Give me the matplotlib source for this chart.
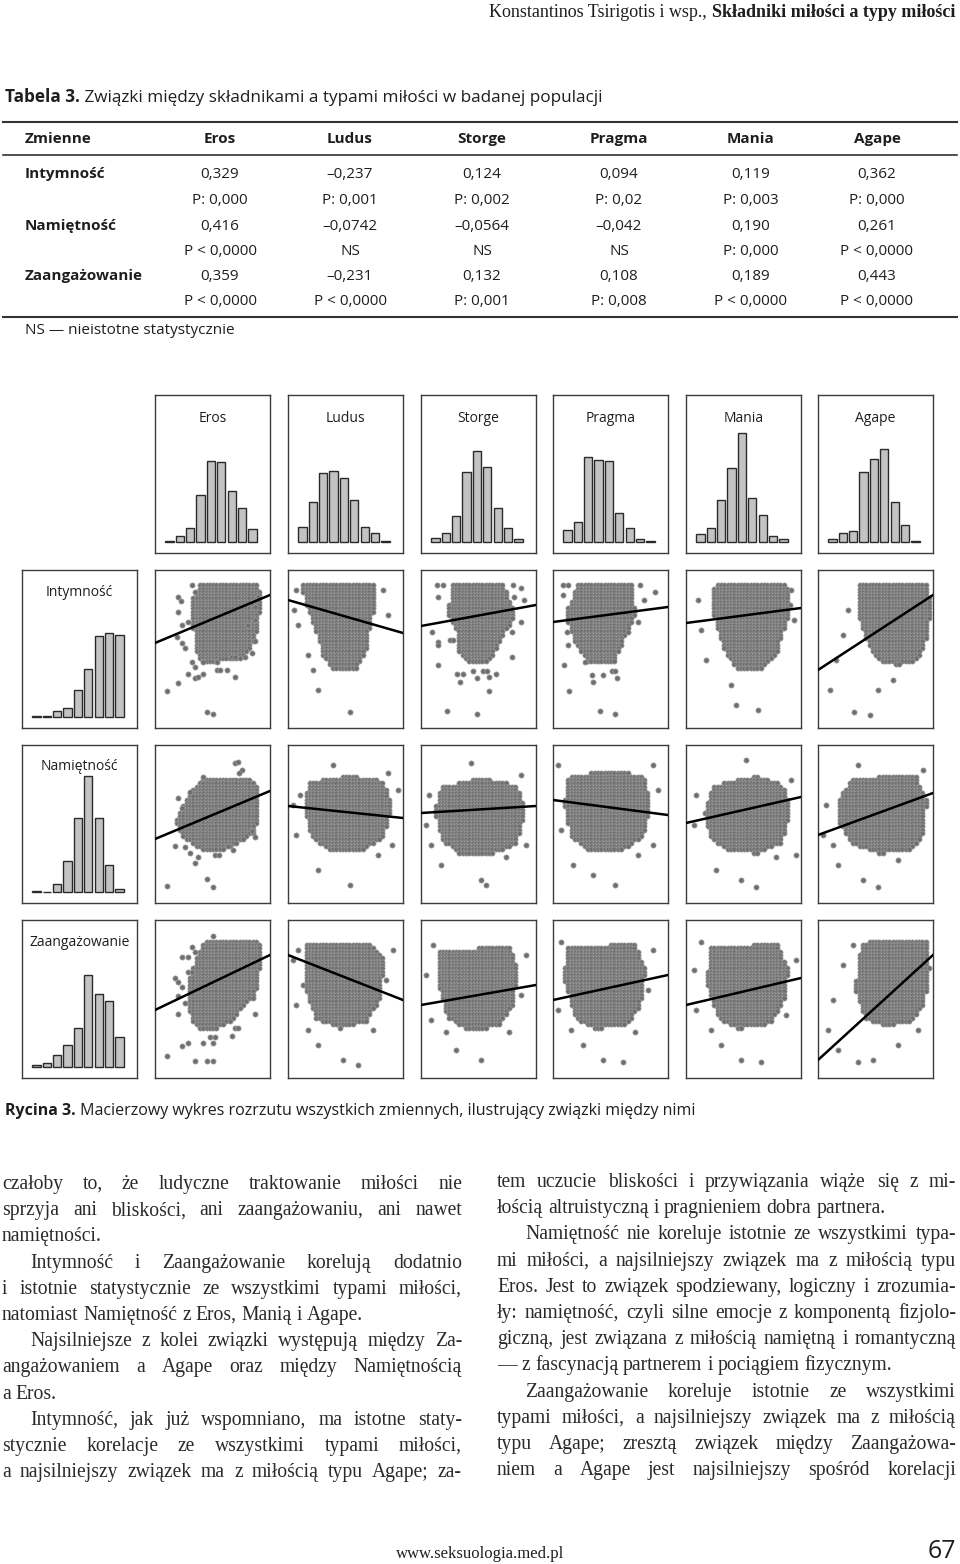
import numpy as np
import matplotlib.pyplot as plt
from matplotlib.path import Path
from matplotlib.lines import Line2D

W, H = 960, 1564

# ---- table data ----
love_types = ['Eros', 'Ludus', 'Storge', 'Pragma', 'Mania', 'Agape']
components = ['Intymność', 'Namiętność', 'Zaangażowanie']
r_intymnosc = ['0,329', '–0,237', '0,124', '0,094', '0,119', '0,362']
p_intymnosc = ['P: 0,000', 'P: 0,001', 'P: 0,002', 'P: 0,02', 'P: 0,003', 'P: 0,000']
r_namietnosc = ['0,416', '–0,0742', '–0,0564', '–0,042', '0,190', '0,261']
p_namietnosc = ['P < 0,0000', 'NS', 'NS', 'NS', 'P: 0,000', 'P < 0,0000']
r_zaangazowanie = ['0,359', '–0,231', '0,132', '0,108', '0,189', '0,443']
p_zaangazowanie = ['P < 0,0000', 'P < 0,0000', 'P: 0,001', 'P: 0,008', 'P < 0,0000', 'P < 0,0000']

# ---- histogram heights (9 bins each) ----
hist_types = [
    [0.7, 6, 14, 47, 81, 80, 51, 34, 13],     # Eros
    [15, 40, 69, 71, 64, 42, 15, 9, 0.7],     # Ludus
    [4, 9, 26, 70, 91, 75, 34, 14, 3],        # Storge
    [12, 20, 85, 82, 81, 29, 14, 3, 0.7],     # Pragma
    [8, 14, 42, 74, 109, 44, 27, 6, 3],       # Mania
    [3, 9, 11, 70, 83, 93, 40, 17, 0.7],      # Agape
]
hist_components = [
    [0.7, 0.7, 6, 9, 27, 48, 81, 84, 82],     # Intymność
    [0.7, 0.5, 8, 31, 74, 116, 74, 27, 3],    # Namiętność
    [2.3, 4.3, 12, 22, 39, 92, 73, 66, 30],   # Zaangażowanie
]

# ---- scatter clouds: dense core outline, isolated points, fit line (y at left, y at right) ----
core_intymnosc = [
    [(46, 13), (102, 13), (106, 25), (104, 45), (100, 68), (95, 80), (82, 90), (48, 92), (40, 82), (38, 55), (38, 28)],
    [(12, 13), (85, 13), (88, 30), (82, 55), (78, 80), (68, 98), (45, 100), (35, 85), (28, 60), (18, 35)],
    [(31, 14), (82, 14), (94, 45), (84, 62), (74, 82), (66, 92), (49, 92), (37, 82), (37, 62), (27, 45)],
    [(25, 14), (79, 14), (82, 45), (69, 72), (62, 92), (35, 92), (22, 72), (12, 45)],
    [(30, 13), (100, 13), (105, 35), (98, 60), (90, 85), (75, 98), (50, 98), (38, 80), (30, 55), (25, 30)],
    [(40, 13), (110, 13), (112, 40), (108, 70), (100, 90), (80, 95), (60, 90), (48, 70), (40, 45)],
]
extra_intymnosc = [
    [(23, 27), (26, 31), (23, 42), (37, 15), (40, 22), (27, 55), (33, 52), (22, 67), (27, 73), (30, 78),
     (37, 92), (40, 97), (48, 92), (33, 104), (40, 108), (43, 107), (48, 104), (23, 113), (12, 121),
     (62, 100), (65, 100), (72, 100), (80, 107), (62, 92), (77, 87), (80, 87), (90, 87), (97, 83),
     (100, 71), (93, 55), (100, 50), (100, 37), (103, 27), (52, 142), (58, 144)],
    [(8, 20), (6, 40), (10, 55), (20, 85), (25, 100), (30, 120), (62, 142), (95, 20), (100, 45)],
    [(16, 15), (22, 15), (17, 27), (92, 15), (100, 18), (103, 30), (93, 27), (11, 62), (17, 72), (17, 75),
     (17, 95), (36, 104), (42, 104), (39, 112), (52, 101), (56, 108), (62, 101), (66, 101), (68, 107),
     (75, 104), (68, 121), (91, 87), (100, 52), (91, 62), (91, 48), (26, 141), (56, 144), (29, 70), (32, 70)],
    [(10, 15), (10, 25), (15, 15), (87, 15), (102, 22), (91, 30), (85, 52), (75, 62), (14, 62), (15, 75),
     (11, 95), (32, 92), (39, 105), (50, 105), (59, 101), (62, 101), (64, 108), (40, 112), (16, 121),
     (47, 141), (62, 144)],
    [(12, 30), (15, 60), (20, 90), (45, 115), (50, 135), (72, 140), (105, 20), (108, 50)],
    [(30, 40), (25, 65), (18, 90), (12, 120), (36, 142), (52, 145), (75, 110), (60, 120)],
]
fit_intymnosc = [(73, 25), (30, 63), (56, 35), (52, 37), (53, 38), (100, 25)]

core_namietnosc = [
    [(47, 35), (93, 33), (102, 42), (103, 62), (100, 88), (87, 95), (67, 105), (47, 105), (37, 98), (27, 92), (20, 75), (27, 62), (35, 48)],
    [(20, 38), (60, 30), (95, 36), (103, 60), (96, 92), (72, 106), (42, 106), (24, 92), (16, 65)],
    [(20, 42), (60, 33), (96, 40), (104, 65), (96, 98), (68, 110), (38, 108), (20, 94), (14, 66)],
    [(14, 32), (60, 25), (92, 32), (97, 60), (90, 92), (68, 106), (36, 106), (18, 92), (11, 60)],
    [(28, 40), (70, 31), (97, 40), (104, 65), (96, 97), (73, 108), (42, 106), (24, 93), (18, 66)],
    [(34, 33), (97, 30), (108, 55), (106, 88), (92, 106), (60, 108), (33, 98), (20, 75), (22, 52)],
]
extra_namietnosc = [
    [(80, 18), (83, 17), (87, 25), (84, 28), (48, 32), (23, 53), (27, 63), (35, 47), (20, 101), (30, 102),
     (35, 108), (43, 112), (40, 118), (60, 110), (64, 110), (73, 101), (78, 105), (97, 86), (100, 92),
     (12, 141), (52, 134), (58, 142)],
    [(5, 60), (8, 90), (30, 125), (62, 140), (110, 45), (104, 100), (45, 20), (12, 50), (100, 28), (90, 110)],
    [(50, 18), (8, 50), (5, 80), (20, 120), (60, 135), (65, 140), (105, 100), (10, 100), (100, 30), (85, 112)],
    [(5, 20), (100, 20), (105, 45), (20, 120), (40, 130), (62, 140), (100, 100), (8, 85), (85, 110)],
    [(60, 15), (10, 50), (8, 80), (30, 125), (55, 135), (70, 142), (110, 110), (105, 35), (90, 112)],
    [(8, 60), (5, 90), (20, 120), (45, 135), (60, 142), (40, 20), (105, 25), (80, 115), (15, 100)],
]
fit_namietnosc = [(94, 46), (61, 73), (68, 61), (55, 70), (78, 52), (90, 48)]

core_zaangazowanie = [
    [(50, 20), (103, 20), (107, 33), (103, 57), (100, 77), (90, 83), (77, 100), (67, 107), (47, 110), (37, 100), (33, 83), (32, 67), (37, 50), (43, 33)],
    [(18, 24), (82, 22), (96, 40), (92, 78), (78, 102), (50, 108), (28, 98), (15, 65)],
    [(18, 30), (88, 27), (97, 50), (92, 84), (78, 106), (46, 110), (27, 98), (17, 65)],
    [(13, 27), (82, 24), (92, 50), (87, 84), (73, 106), (42, 108), (22, 98), (11, 60)],
    [(23, 27), (92, 24), (102, 50), (97, 84), (83, 104), (52, 108), (32, 98), (21, 65)],
    [(43, 22), (110, 20), (111, 50), (106, 84), (93, 102), (66, 106), (47, 98), (37, 70)],
]
extra_zaangazowanie = [
    [(58, 16), (37, 27), (27, 37), (33, 37), (40, 32), (20, 58), (23, 62), (27, 67), (33, 52), (37, 52),
     (23, 76), (30, 83), (23, 94), (100, 94), (80, 108), (83, 108), (77, 116), (55, 117), (60, 117),
     (48, 123), (58, 123), (33, 123), (27, 126), (12, 136), (40, 141), (52, 141), (58, 141)],
    [(5, 40), (8, 85), (30, 125), (55, 140), (70, 145), (105, 30), (10, 30), (98, 60), (85, 110), (20, 110)],
    [(5, 55), (10, 100), (35, 130), (60, 140), (105, 35), (12, 25), (100, 75), (88, 112), (25, 112)],
    [(100, 30), (5, 90), (30, 125), (50, 140), (70, 142), (8, 22), (95, 70), (82, 112), (18, 110)],
    [(8, 50), (10, 90), (35, 125), (55, 140), (75, 142), (110, 40), (15, 22), (100, 95), (25, 110)],
    [(25, 45), (15, 80), (10, 110), (20, 130), (40, 142), (55, 140), (80, 125), (35, 25), (100, 110)],
]
fit_zaangazowanie = [(90, 35), (35, 80), (85, 65), (80, 55), (85, 58), (140, 35)]

# ---- text ----
header_regular = 'Konstantinos Tsirigotis i wsp., '
header_bold = 'Składniki miłości a typy miłości'
table_title = ('Tabela 3.', ' Związki między składnikami a typami miłości w badanej populacji')
figure_caption = ('Rycina 3.', ' Macierzowy wykres rozrzutu wszystkich zmiennych, ilustrujący związki między nimi')
# (line, starts paragraph, ends paragraph)
left_column = [
    ('czałoby to, że ludyczne traktowanie miłości nie', False, False),
    ('sprzyja ani bliskości, ani zaangażowaniu, ani nawet', False, False),
    ('namiętności.', False, True),
    ('Intymność i Zaangażowanie korelują dodatnio', True, False),
    ('i istotnie statystycznie ze wszystkimi typami miłości,', False, False),
    ('natomiast Namiętność z Eros, Manią i Agape.', False, True),
    ('Najsilniejsze z kolei związki występują między Za-', True, False),
    ('angażowaniem a Agape oraz między Namiętnością', False, False),
    ('a Eros.', False, True),
    ('Intymność, jak już wspomniano, ma istotne staty-', True, False),
    ('stycznie korelacje ze wszystkimi typami miłości,', False, False),
    ('a najsilniejszy związek ma z miłością typu Agape; za-', False, False),
]
right_column = [
    ('tem uczucie bliskości i przywiązania wiąże się z mi-', False, False),
    ('łością altruistyczną i pragnieniem dobra partnera.', False, True),
    ('Namiętność nie koreluje istotnie ze wszystkimi typa-', True, False),
    ('mi miłości, a najsilniejszy związek ma z miłością typu', False, False),
    ('Eros. Jest to związek spodziewany, logiczny i zrozumia-', False, False),
    ('ły: namiętność, czyli silne emocje z komponentą fizjolo-', False, False),
    ('giczną, jest związana z miłością namiętną i romantyczną', False, False),
    ('— z fascynacją partnerem i pociągiem fizycznym.', False, True),
    ('Zaangażowanie koreluje istotnie ze wszystkimi', True, False),
    ('typami miłości, a najsilniejszy związek ma z miłością', False, False),
    ('typu Agape; zresztą związek między Zaangażowa-', False, False),
    ('niem a Agape jest najsilniejszy spośród korelacji', False, False),
]

SANS = ['Open Sans', 'DejaVu Sans']
SERIF = ['Liberation Serif', 'DejaVu Serif']
INK = '#1e1e1e'

fig = plt.figure(figsize=(W / 100, H / 100), dpi=100)
fig.patch.set_facecolor('white')
renderer = fig.canvas.get_renderer()


def ftext(x, y, s, **kw):
    kw.setdefault('va', 'center')
    kw.setdefault('color', INK)
    return fig.text(x / W, 1 - y / H, s, **kw)


def width_of(s, **kw):
    t = fig.text(0, 0, s, **kw)
    w = t.get_window_extent(renderer).width
    t.remove()
    return w


def hline(x0, x1, y, lw):
    fig.add_artist(Line2D([x0 / W, x1 / W], [1 - y / H] * 2, transform=fig.transFigure,
                          color='#333333', lw=lw))


def px_axes(x, y, w, h):
    ax = fig.add_axes([x / W, 1 - (y + h) / H, w / W, h / H])
    ax.set_xticks([])
    ax.set_yticks([])
    for s in ax.spines.values():
        s.set_color('#3c3c3c')
        s.set_linewidth(1.0)
    return ax


# header
serif_kw = dict(family=SERIF)
wb = width_of(header_bold, fontsize=13, fontweight='bold', **serif_kw)
ftext(955, 17, header_bold, ha='right', va='baseline', fontsize=13, fontweight='bold', **serif_kw)
ftext(955 - wb, 17, header_regular, ha='right', va='baseline', fontsize=13, **serif_kw)

# table title
w1 = width_of(table_title[0], fontsize=12.3, fontweight='bold', family=SANS)
ftext(5, 102, table_title[0], ha='left', va='baseline', fontsize=12.3, fontweight='bold', family=SANS)
ftext(5 + w1, 102, table_title[1], ha='left', va='baseline', fontsize=12.3, family=SANS)

# table
col_centers = [220, 350, 482, 619, 751, 877]
hline(3, 957, 122, 1.5)
hline(3, 957, 155, 1.2)
hline(3, 957, 317, 1.5)
ftext(25, 139, 'Zmienne', ha='left', fontsize=11, fontweight='bold', family=SANS)
for cx, name in zip(col_centers, love_types):
    ftext(cx, 139, name, ha='center', fontsize=11, fontweight='bold', family=SANS)
rows_r = [r_intymnosc, r_namietnosc, r_zaangazowanie]
rows_p = [p_intymnosc, p_namietnosc, p_zaangazowanie]
row_y = [(178, 204), (230, 255), (280, 305)]
for comp, rv, pv, (yr, yp) in zip(components, rows_r, rows_p, row_y):
    ftext(25, yr, comp, ha='left', va='baseline', fontsize=11, fontweight='bold', family=SANS)
    for cx, r, p in zip(col_centers, rv, pv):
        ftext(cx, yr, r, ha='center', va='baseline', fontsize=11, family=SANS)
        ftext(cx, yp, p, ha='center', va='baseline', fontsize=11, family=SANS)
ftext(25, 334, 'NS — nieistotne statystycznie', ha='left', va='baseline', fontsize=11, family=SANS)

# scatter-plot matrix
col_x = [22, 155, 288, 421, 553, 686, 818]
row_y0 = [395, 570, 745, 920]
PW, PH = 115, 158
bar_kw = dict(width=0.8, color='#c3c3c3', edgecolor='#2a2a2a', linewidth=1.0)

for j, (name, vals) in enumerate(zip(love_types, hist_types)):
    ax = px_axes(col_x[j + 1], row_y0[0], PW, PH)
    ax.bar(np.arange(len(vals)), vals, **bar_kw)
    ax.set_xlim(-1.4, 9.7)
    ax.set_ylim(-11, 147)
    ax.text(0.5, 1 - 23 / PH, name, transform=ax.transAxes, ha='center', va='center',
            fontsize=10, family=SANS, color=INK)

for i, (name, vals) in enumerate(zip(components, hist_components)):
    ax = px_axes(col_x[0], row_y0[i + 1], PW, PH)
    ax.bar(np.arange(len(vals)), vals, **bar_kw)
    ax.set_xlim(-1.4, 9.7)
    ax.set_ylim(-11, 147)
    ax.text(0.5, 1 - 22 / PH, name, transform=ax.transAxes, ha='center', va='center',
            fontsize=10, family=SANS, color=INK)

gx, gy = np.meshgrid(np.arange(2, PW, 3.3), np.arange(2, PH, 3.3))
lattice = np.column_stack([gx.ravel(), gy.ravel()])
cores = [core_intymnosc, core_namietnosc, core_zaangazowanie]
extras = [extra_intymnosc, extra_namietnosc, extra_zaangazowanie]
fits = [fit_intymnosc, fit_namietnosc, fit_zaangazowanie]
for i in range(3):
    for j in range(6):
        ax = px_axes(col_x[j + 1], row_y0[i + 1], PW, PH)
        inside = Path(cores[i][j]).contains_points(lattice)
        pts = np.vstack([lattice[inside], np.array(extras[i][j], dtype=float)])
        ax.scatter(pts[:, 0], pts[:, 1], s=14, c='#6e6e6e', edgecolors='#a0a0a0',
                   linewidths=0.5, zorder=2)
        yl, yr = fits[i][j]
        ax.plot([0, PW], [yl, yr], color='black', lw=1.8, zorder=3)
        ax.set_xlim(0, PW)
        ax.set_ylim(PH, 0)

# caption
w1 = width_of(figure_caption[0], fontsize=11.5, fontweight='bold', family=SANS)
ftext(5, 1115, figure_caption[0], ha='left', va='baseline', fontsize=11.5, fontweight='bold', family=SANS)
ftext(5 + w1, 1115, figure_caption[1], ha='left', va='baseline', fontsize=11.5, family=SANS)

# body text, justified
body_kw = dict(family=SERIF, color='#2a2a2a')
INDENT = 28
cols = [(2, 462, left_column, 1189), (497, 956, right_column, 1187)]
widest = 0
for x0, x1, lines, _ in cols:
    for s, first, last in lines:
        if not last:
            widest = max(widest, width_of(s, fontsize=12, **body_kw) / (x1 - x0 - (INDENT if first else 0)))
body_size = min(14.5, 12 / widest * 0.97)
space_w = width_of('a a', fontsize=body_size, **body_kw) - 2 * width_of('a', fontsize=body_size, **body_kw)
for x0, x1, lines, ybase in cols:
    for k, (s, first, last) in enumerate(lines):
        y = ybase + k * 26.2
        start = x0 + (INDENT if first else 0)
        words = s.split(' ')
        ws = [width_of(w, fontsize=body_size, **body_kw) for w in words]
        if last or len(words) == 1:
            gap = space_w
        else:
            gap = (x1 - start - sum(ws)) / (len(words) - 1)
        x = start
        for w, ww in zip(words, ws):
            ftext(x, y, w, ha='left', va='baseline', fontsize=body_size, **body_kw)
            x += ww + gap

# footer
ftext(480, 1558, 'www.seksuologia.med.pl', ha='center', va='baseline', fontsize=12, **serif_kw)
ftext(956, 1558, '67', ha='right', va='baseline', fontsize=18, family=SANS)

fig.savefig('out.png', dpi=100, facecolor='white')
